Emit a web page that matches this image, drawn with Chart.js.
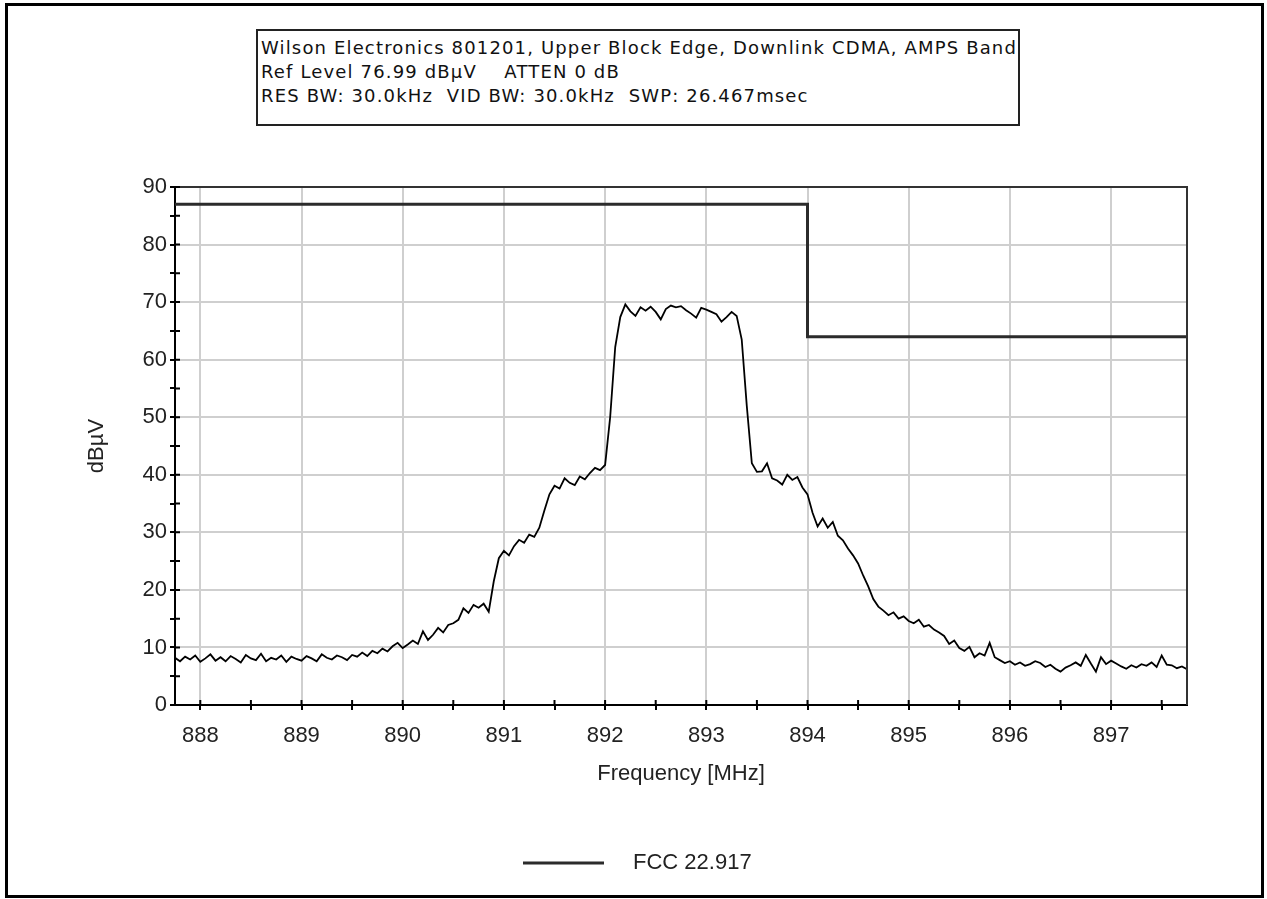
<!DOCTYPE html>
<html>
<head>
<meta charset="utf-8">
<title>Upper Block Edge</title>
<script src="https://cdn.jsdelivr.net/npm/chart.js@4.4.0/dist/chart.umd.min.js"></script>
<style>
  html, body { margin: 0; padding: 0; background: #fff; }
  #wrap { position: relative; width: 1267px; height: 899px; overflow: hidden; }
  #frame { position: absolute; left: 5px; top: 3px; width: 1253px; height: 889px; border: 3px solid #000; }
  #header {
    position: absolute; left: 256px; top: 29px; width: 757px; height: 88px;
    border: 2px solid #222; background: #fff; z-index: 2;
    padding: 5px 0 0 3px;
    font: 18px 'DejaVu Sans', sans-serif; letter-spacing: 1.15px; line-height: 24px; color: #111;
    white-space: nowrap;
  }
  #chart { position: absolute; left: 0; top: 0; }
</style>
</head>
<body>
<div id="wrap">
  <div id="frame"></div>
  <div id="header">
    <div>Wilson Electronics 801201, Upper Block Edge, Downlink CDMA, AMPS Band</div>
    <div>Ref Level 76.99 dBµV&nbsp;&nbsp;&nbsp;&nbsp;ATTEN 0 dB</div>
    <div>RES BW: 30.0kHz&nbsp;&nbsp;VID BW: 30.0kHz&nbsp;&nbsp;SWP: 26.467msec</div>
  </div>
  <canvas id="chart" width="1267" height="899"></canvas>
</div>
<script>
// sweep: 887.75 .. 897.75 MHz, one reading every 50 kHz
const freqStart = 887.75;
const freqStep = 0.05;
const traceLevel = [
  8.2, 7.6, 8.4, 7.9, 8.6, 7.5, 8.1, 8.8, 7.7, 8.3, 7.6, 8.5, 8.0, 7.4, 8.7, 8.1, 7.8, 8.9, 7.6, 8.2, 7.9, 8.6, 7.5, 8.4, 8.0,
  7.7, 8.5, 8.1, 7.6, 8.8, 8.2, 7.9, 8.6, 8.3, 7.8,
  8.7, 8.4, 9.1, 8.5, 9.4, 9.0, 9.8, 9.3, 10.2, 10.8,
  9.9, 10.5, 11.2, 10.6, 12.8, 11.3, 12.2, 13.4, 12.6, 13.9,
  14.2, 14.8, 16.8, 16.0, 17.4, 16.9, 17.6, 16.2,
  21.5, 25.5, 26.8, 26.0, 27.6, 28.7, 28.2, 29.6, 29.2, 30.8, 33.8, 36.6, 38.1, 37.6, 39.4, 38.6, 38.2, 39.7, 39.2, 40.3, 41.2, 40.8,
  41.7, 50.0, 62.2, 67.4, 69.6, 68.4, 67.6, 69.1, 68.5, 69.2,
  68.3, 67.0, 68.8, 69.4, 69.1, 69.3, 68.6, 68.0, 67.3, 69.0,
  68.7, 68.3, 67.9, 66.6, 67.4, 68.3, 67.6, 63.5, 52.0, 42.0,
  40.5, 40.6, 42.0, 39.4, 39.0, 38.3, 40.0, 39.1, 39.6, 37.8,
  36.6, 33.4, 31.0, 32.4, 30.8, 31.8, 29.4, 28.6, 27.2, 26.0,
  24.6, 22.5, 20.6, 18.4, 17.1, 16.4, 15.6, 16.1, 15.0, 15.4,
  14.6, 14.2, 14.8, 13.6, 13.9, 13.1, 12.6, 12.0, 10.6, 11.2,
  9.9, 9.4, 10.1, 8.3, 9.0, 8.6, 10.8, 8.3, 7.8, 7.3,
  7.6, 7.0, 7.4, 6.8, 7.1, 7.6, 7.3, 6.6, 7.0, 6.3,
  5.8, 6.5, 6.9, 7.4, 6.8, 8.7, 7.2, 5.8, 8.3, 7.1,
  7.7, 7.2, 6.7, 6.3, 6.9, 6.5, 7.1, 6.8, 7.4, 6.6,
  8.6, 7.0, 6.9, 6.4, 6.7, 6.2
];

// FCC 22.917 emission mask (step down at the block edge)
const fccFreq = [887.75, 894, 894, 897.75];
const fccLimit = [87, 87, 64, 64];

const xMin = 887.75, xMax = 897.75;
const yMin = 0, yMax = 90;
const xTicks = [888, 888.5, 889, 889.5, 890, 890.5, 891, 891.5, 892, 892.5,
                893, 893.5, 894, 894.5, 895, 895.5, 896, 896.5, 897, 897.5];

const traceFreq = traceLevel.map((_, i) => +(freqStart + i * freqStep).toFixed(3));
const tracePoints = traceLevel.map((v, i) => ({ x: traceFreq[i], y: v }));
const fccPoints = fccLimit.map((v, i) => ({ x: fccFreq[i], y: v }));

const axisFont = { family: "'Liberation Sans', Arial, sans-serif", size: 22 };
const textColor = '#222';
const gridColor = '#cfcfcf';
const clear = 'rgba(0,0,0,0)';

// plot border, inside half of the tick marks, legend
const plotExtras = {
  id: 'plotExtras',
  afterDraw(chart) {
    const { ctx, chartArea: a, scales } = chart;
    ctx.save();
    ctx.strokeStyle = '#333';
    ctx.lineWidth = 2;
    ctx.beginPath();
    ctx.moveTo(a.left, a.top);
    ctx.lineTo(a.right, a.top);
    ctx.lineTo(a.right, a.bottom);
    ctx.stroke();

    ctx.strokeStyle = '#000';
    ctx.beginPath();
    scales.x.ticks.forEach(t => {
      const px = scales.x.getPixelForValue(t.value);
      ctx.moveTo(px, a.bottom);
      ctx.lineTo(px, a.bottom - 5);
    });
    scales.y.ticks.forEach(t => {
      const py = scales.y.getPixelForValue(t.value);
      ctx.moveTo(a.left, py);
      ctx.lineTo(a.left + 5, py);
    });
    ctx.stroke();

    const ds = chart.data.datasets[1];
    ctx.strokeStyle = ds.borderColor;
    ctx.lineWidth = 3;
    ctx.beginPath();
    ctx.moveTo(523, 863);
    ctx.lineTo(604, 863);
    ctx.stroke();
    ctx.fillStyle = textColor;
    ctx.font = `${axisFont.size}px ${axisFont.family}`;
    ctx.textBaseline = 'middle';
    ctx.fillText(ds.label, 633, 863);
    ctx.restore();
  }
};

new Chart('chart', {
  type: 'line',
  data: {
    datasets: [
      {
        label: 'Trace',
        data: tracePoints,
        borderColor: '#000',
        borderWidth: 1.8,
        pointRadius: 0,
        tension: 0
      },
      {
        label: 'FCC 22.917',
        data: fccPoints,
        borderColor: '#2b2b2b',
        borderWidth: 3,
        pointRadius: 0,
        tension: 0
      }
    ]
  },
  options: {
    responsive: false,
    animation: false,
    devicePixelRatio: 1,
    layout: { padding: { left: 80, right: 80, top: 187, bottom: 108 } },
    plugins: {
      legend: { display: false },
      tooltip: { enabled: false }
    },
    scales: {
      x: {
        type: 'linear',
        min: xMin,
        max: xMax,
        afterFit: s => { s.height = 86; },
        afterBuildTicks: s => { s.ticks = xTicks.map(v => ({ value: v })); },
        border: { color: '#000', width: 2 },
        grid: {
          color: c => Number.isInteger(c.tick.value) ? gridColor : clear,
          lineWidth: 2,
          tickLength: 5,
          tickColor: '#000',
          tickWidth: 2
        },
        ticks: {
          autoSkip: false,
          maxRotation: 0,
          padding: 13,
          color: textColor,
          font: axisFont,
          callback: v => Number.isInteger(v) ? String(v) : ''
        },
        title: { display: true, text: 'Frequency [MHz]', color: textColor, font: axisFont, padding: { top: 4, bottom: 4 } }
      },
      y: {
        min: yMin,
        max: yMax,
        afterFit: s => { s.width = 95; },
        border: { color: '#000', width: 2 },
        grid: {
          color: c => c.tick.value % 10 === 0 ? gridColor : clear,
          lineWidth: 2,
          tickLength: 5,
          tickColor: '#000',
          tickWidth: 2
        },
        ticks: {
          stepSize: 5,
          autoSkip: false,
          padding: 3,
          color: textColor,
          font: axisFont,
          callback: v => v % 10 === 0 ? String(v) : ''
        },
        title: { display: true, text: 'dBµV', color: textColor, font: axisFont, padding: { top: 4, bottom: 4 } }
      }
    }
  },
  plugins: [plotExtras]
});
</script>
</body>
</html>
